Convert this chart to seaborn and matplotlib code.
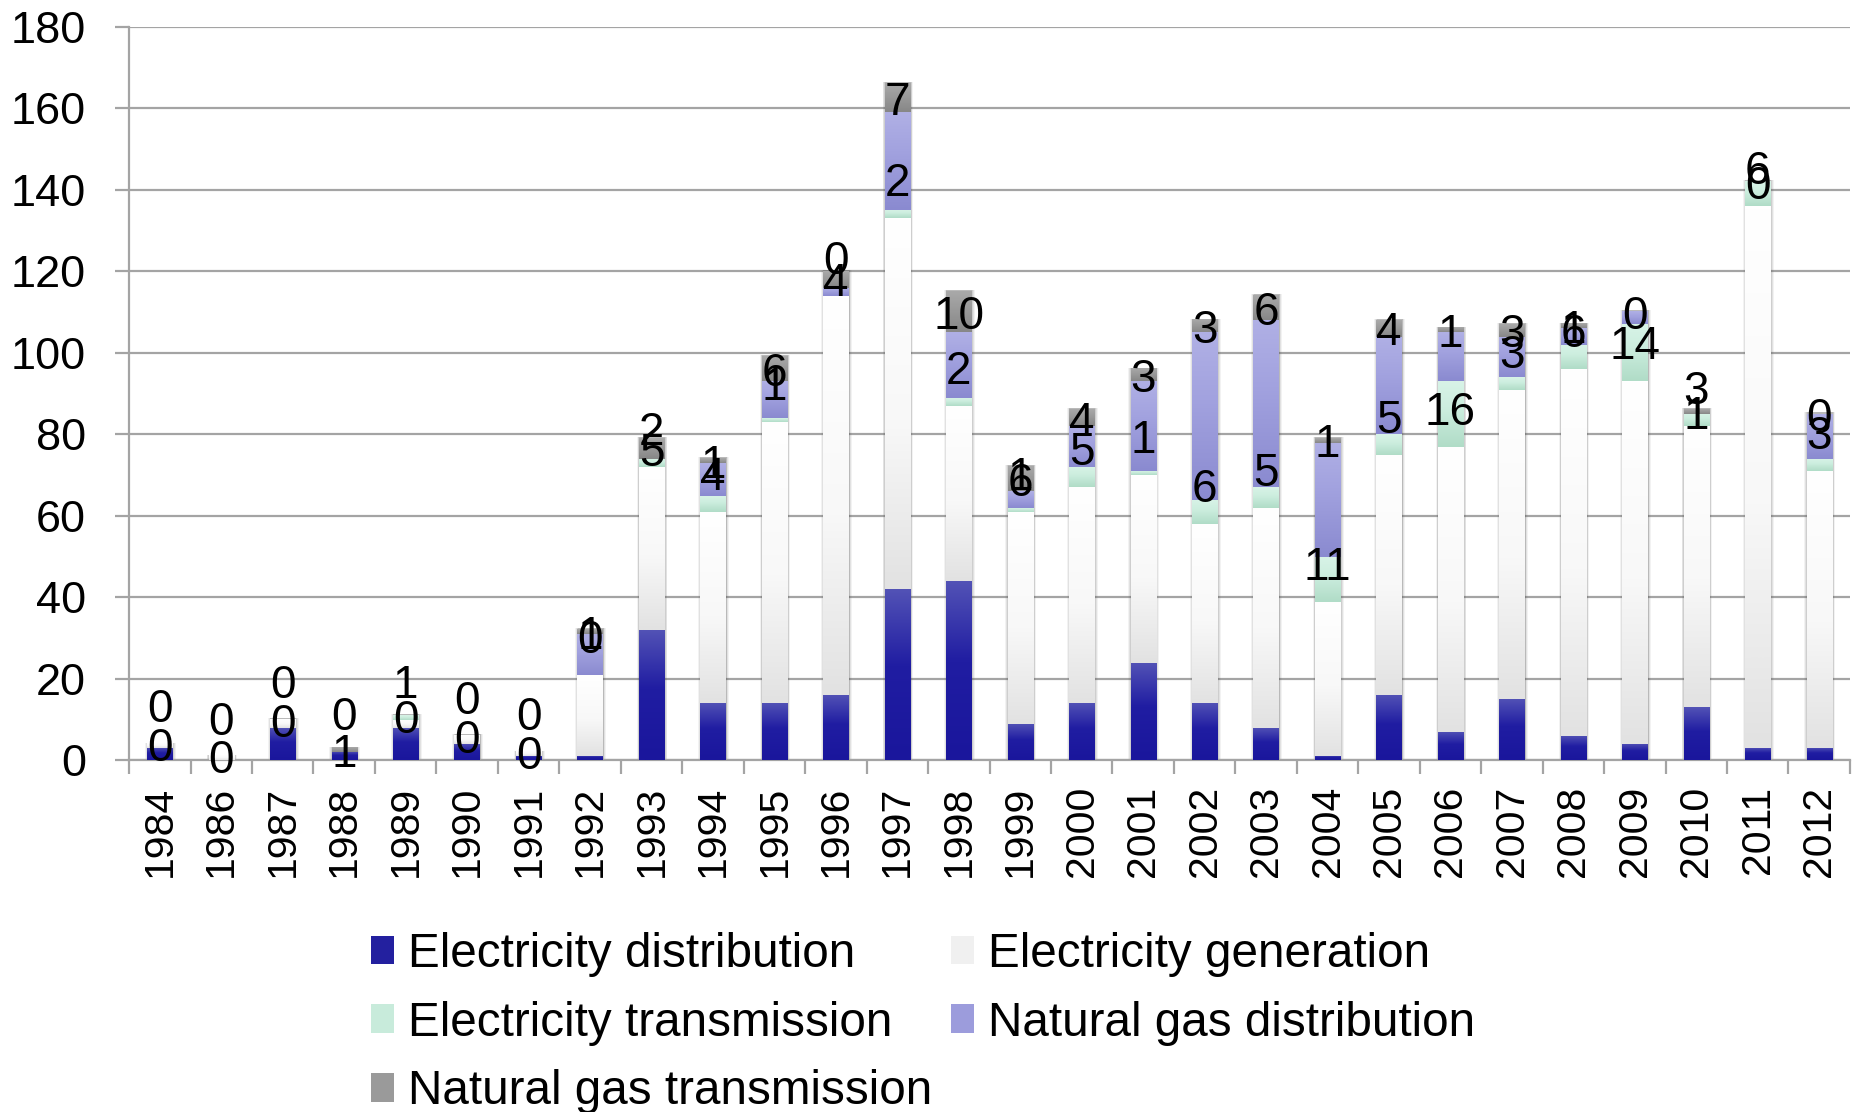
import numpy as np
import pandas as pd
import matplotlib
matplotlib.use("Agg")
import matplotlib.pyplot as plt
import seaborn as sns
from matplotlib.colors import LinearSegmentedColormap
from matplotlib.patches import Rectangle

# DATA
years = ["1984", "1986", "1987", "1988", "1989", "1990", "1991", "1992", "1993", "1994",
         "1995", "1996", "1997", "1998", "1999", "2000", "2001", "2002", "2003", "2004",
         "2005", "2006", "2007", "2008", "2009", "2010", "2011", "2012"]

elec_distribution = [3, 0, 8, 2, 8, 4, 1, 1, 32, 14, 14, 16, 42, 44, 9, 14, 24, 14, 8, 1,
                     16, 7, 15, 6, 4, 13, 3, 3]
elec_generation = [1, 1, 2, 0, 2, 2, 1, 20, 40, 47, 69, 98, 91, 43, 52, 53, 46, 44, 54, 38,
                   59, 70, 76, 90, 89, 69, 133, 68]
elec_transmission = [0, 0, 0, 0, 1, 0, 0, 0, 2, 4, 1, 0, 2, 2, 1, 5, 1, 6, 5, 11,
                     5, 16, 3, 6, 14, 3, 6, 3]
gas_distribution = [0, 0, 0, 0, 0, 0, 0, 10, 0, 8, 9, 2, 24, 16, 4, 10, 22, 41, 41, 28,
                    24, 12, 10, 4, 3, 0, 0, 11]
gas_transmission = [0, 0, 0, 1, 0, 0, 0, 1, 5, 1, 6, 4, 7, 10, 6, 4, 3, 3, 6, 1,
                    4, 1, 3, 1, 0, 1, 0, 0]

series_names = ["Electricity distribution", "Electricity generation", "Electricity transmission",
                "Natural gas distribution", "Natural gas transmission"]
series_values = [elec_distribution, elec_generation, elec_transmission,
                 gas_distribution, gas_transmission]

# gradient stops (bottom -> top) for each series, close to the Excel fills
gradients = [
    [(0.0, "#1a169c"), (0.55, "#201da2"), (1.0, "#5353b6")],
    [(0.0, "#e2e2e2"), (0.45, "#f8f8f8"), (1.0, "#ffffff")],
    [(0.0, "#b0dcc7"), (0.6, "#cdeedf"), (1.0, "#d8f3e7")],
    [(0.0, "#8a8ad0"), (0.6, "#a2a2df"), (1.0, "#b0b0e5")],
    [(0.0, "#878787"), (1.0, "#a9a9a9")],
]
legend_colors = ["#23209f", "#f0f0f0", "#c8ebdb", "#9c9cdc", "#9a9a9a"]

sns.set_theme(style="white")
plt.rcParams["font.family"] = ["Liberation Sans", "DejaVu Sans"]

fig = plt.figure(figsize=(18.57, 11.12), dpi=100)
ax = fig.add_axes([0.0695, 0.3161, 0.9267, 0.6599])

n = len(years)
bar_width = 0.41
grid_grey = "#a4a4a4"

df = pd.DataFrame({"Year": years})
totals = np.sum(np.array(series_values), axis=0)

# I draw a soft grey shadow behind each stacked column
for k, extra in enumerate([0.09, 0.06, 0.035, 0.015]):
    ax.bar(np.arange(n) + 0.01, totals + 0.4, width=bar_width + extra, color="#505050",
           alpha=0.07 + 0.03 * k, linewidth=0, zorder=2)


def fill_gradient(patch, stops):
    x0, y0 = patch.get_x(), patch.get_y()
    w, h = patch.get_width(), patch.get_height()
    patch.set_visible(False)
    if h <= 0:
        return
    cmap = LinearSegmentedColormap.from_list("grad", stops)
    grad = np.linspace(0, 1, 128).reshape(-1, 1)
    ax.imshow(grad, cmap=cmap, origin="lower", extent=(x0, x0 + w, y0, y0 + h),
              aspect="auto", interpolation="bilinear", zorder=3)


# stacked bars, one seaborn call per series
bottom = np.zeros(n)
bases = []
for name, vals, stops in zip(series_names, series_values, gradients):
    vals = np.array(vals, dtype=float)
    before = len(ax.patches)
    sns.barplot(data=df.assign(v=vals), x="Year", y="v", order=years, bottom=bottom,
                width=bar_width, errorbar=None, color=stops[-1][1], linewidth=0, ax=ax)
    for patch in ax.patches[before:]:
        fill_gradient(patch, stops)
    bases.append(bottom.copy())
    bottom = bottom + vals

# data labels: transmission near the segment base, gas transmission centred
for i in range(n):
    ax.annotate(str(elec_transmission[i]), xy=(i, bases[2][i]), xytext=(0, 28),
                textcoords="offset points", ha="center", va="center_baseline",
                fontsize=33, color="black", zorder=5)
    ax.annotate(str(gas_transmission[i]), xy=(i, bases[4][i] + gas_transmission[i] / 2),
                ha="center", va="center_baseline", fontsize=33, color="black", zorder=5)

# axes styling
ax.set_xlim(-0.5, n - 0.5)
ax.set_ylim(0, 180)
ax.set_yticks(np.arange(0, 181, 20))
ax.set_xlabel("")
ax.set_ylabel("")
ax.set_axisbelow(True)
ax.yaxis.grid(True, color=grid_grey, linewidth=1.6)
ax.xaxis.grid(False)
for side in ["top", "right"]:
    ax.spines[side].set_visible(False)
for side in ["left", "bottom"]:
    ax.spines[side].set_color(grid_grey)
    ax.spines[side].set_linewidth(1.6)

ax.set_xticks(np.arange(n))
ax.set_xticklabels(years, rotation=90)
ax.set_xticks(np.arange(n + 1) - 0.5, minor=True)
ax.tick_params(axis="x", which="major", length=0, pad=18, labelsize=29.5, colors="black")
ax.tick_params(axis="x", which="minor", length=10, width=1.6, color=grid_grey, bottom=True)
ax.tick_params(axis="y", which="major", length=10, width=1.6, color=grid_grey, left=True,
               pad=21, labelsize=32.5, labelcolor="black")

# legend laid out row-wise like the original (two columns)
handles = [Rectangle((0, 0), 1, 1, facecolor=c, edgecolor="none") for c in legend_colors]
order = [0, 2, 4, 1, 3]
fig.legend([handles[k] for k in order], [series_names[k] for k in order], ncol=2,
           loc="upper left", bbox_to_anchor=(0.2, 0.162), frameon=False, fontsize=34.3,
           handlelength=0.47, handleheight=0.55, handletextpad=0.3, columnspacing=0.4,
           labelspacing=0.5, borderpad=0, borderaxespad=0, labelcolor="black")

plt.savefig("out.png", dpi=100)
